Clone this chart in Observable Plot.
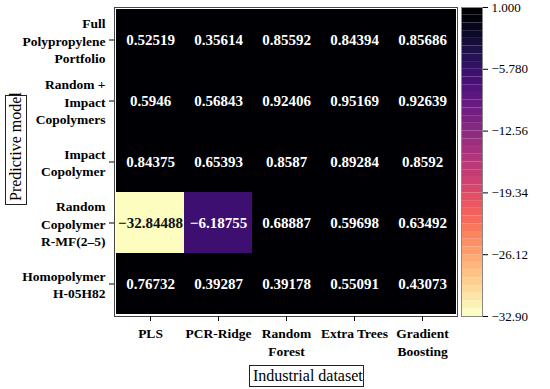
<!DOCTYPE html>
<html>
<head>
<meta charset="utf-8">
<script src="https://cdn.jsdelivr.net/npm/d3@7"></script>
<script src="https://cdn.jsdelivr.net/npm/@observablehq/plot@0.6"></script>
<style>
  html, body { margin: 0; padding: 0; background: #fff; }
  #wrap { position: relative; width: 550px; height: 389px; overflow: hidden; font-family: "Liberation Serif", serif; }
  #wrap svg { position: absolute; top: 0; }
  .boxtitle { position: absolute; border: 1px solid #222; color: #000; font-size: 15px; line-height: 20px; padding: 0 3px; white-space: nowrap; box-sizing: border-box; text-align: center; }
</style>
</head>
<body>
<div id="wrap"></div>
<script>
// ---- data ----
const models = [
  "Full\nPolypropylene\nPortfolio",
  "Random +\nImpact\nCopolymers",
  "Impact\nCopolymer",
  "Random\nCopolymer\nR-MF(2–5)",
  "Homopolymer\nH-05H82"
];
const methods = ["PLS", "PCR-Ridge", "Random\nForest", "Extra Trees", "Gradient\nBoosting"];
const fullPortfolio   = [0.52519, 0.35614, 0.85592, 0.84394, 0.85686];
const randomImpact    = [0.5946, 0.56843, 0.92406, 0.95169, 0.92639];
const impactCopolymer = [0.84375, 0.65393, 0.8587, 0.89284, 0.8592];
const randomCopolymer = [-32.84488, -6.18755, 0.68887, 0.59698, 0.63492];
const homopolymer     = [0.76732, 0.39287, 0.39178, 0.55091, 0.43073];
const colorbarTicks = [1, -5.78, -12.56, -19.34, -26.12, -32.9];
const colorbarTickLabels = ["1.000", "−5.780", "−12.56", "−19.34", "−26.12", "−32.90"];
const colorMin = -32.9, colorMax = 1;
const colorbarSteps = 40;

const rows = [fullPortfolio, randomImpact, impactCopolymer, randomCopolymer, homopolymer];
const table = [];
rows.forEach((vals, i) => vals.forEach((v, j) => table.push({model: models[i], method: methods[j], value: v})));

const fmt = v => String(v).replace("-", "−");
const step = (colorMax - colorMin) / colorbarSteps;
const thresholds = d3.range(1, colorbarSteps).map(i => colorMin + i * step);
const colorOpts = {type: "threshold", domain: thresholds, range: d3.quantize(d3.interpolateMagma, colorbarSteps).reverse()};
const serif = "Liberation Serif, serif";

const main = Plot.plot({
  width: 550, height: 389,
  marginLeft: 114, marginRight: 93, marginTop: 7, marginBottom: 73,
  style: {fontFamily: serif, background: "transparent"},
  x: {domain: methods, padding: 0, label: null},
  y: {domain: models, padding: 0, label: null},
  color: colorOpts,
  marks: [
    Plot.cell(table, {x: "method", y: "model", fill: "value", inset: 0}),
    Plot.text(table, {x: "method", y: "model", text: d => fmt(d.value),
      fill: d => d.value < -20 ? "#111" : "#fff",
      fontSize: 15, fontWeight: "bold", fontFamily: serif}),
    Plot.frame({stroke: "#444", strokeWidth: 1}),
    Plot.axisX({tickSize: 5, tickPadding: 4, fontSize: 13.5, fontWeight: "bold", lineHeight: 1.3, label: null}),
    Plot.axisY({tickSize: 5, tickPadding: 4, fontSize: 13.5, fontWeight: "bold", lineHeight: 1.3, label: null})
  ]
});
main.style.left = "0px";

const bands = d3.range(colorbarSteps).map(i => ({y1: colorMin + i * step, y2: colorMin + (i + 1) * step, v: colorMin + (i + 0.5) * step}));

const bar = Plot.plot({
  width: 110, height: 389,
  marginLeft: 21, marginRight: 68, marginTop: 7, marginBottom: 73,
  style: {fontFamily: serif, background: "transparent"},
  x: {domain: [0, 1], axis: null},
  y: {domain: [colorMin, colorMax], label: null},
  color: colorOpts,
  marks: [
    Plot.rectY(bands, {x1: 0, x2: 1, y1: "y1", y2: "y2", fill: "v"}),
    Plot.frame({stroke: "#888", strokeWidth: 1}),
    Plot.axisY({anchor: "right", ticks: colorbarTicks, tickFormat: (d) => colorbarTickLabels[colorbarTicks.indexOf(d)], tickSize: 5, tickPadding: 4, fontSize: 13, label: null})
  ]
});
bar.style.left = "440px";

const wrap = document.getElementById("wrap");
wrap.appendChild(main);
wrap.appendChild(bar);

const xt = document.createElement("div");
xt.className = "boxtitle";
xt.textContent = "Industrial dataset";
Object.assign(xt.style, {left: "249px", top: "365px", width: "115px", height: "22px", fontSize: "16px"});
wrap.appendChild(xt);

const yt = document.createElement("div");
yt.className = "boxtitle";
yt.textContent = "Predictive model";
Object.assign(yt.style, {left: "-39px", top: "139px", width: "110px", height: "22px", fontSize: "16px", transform: "rotate(-90deg)"});
wrap.appendChild(yt);
</script>
</body>
</html>
